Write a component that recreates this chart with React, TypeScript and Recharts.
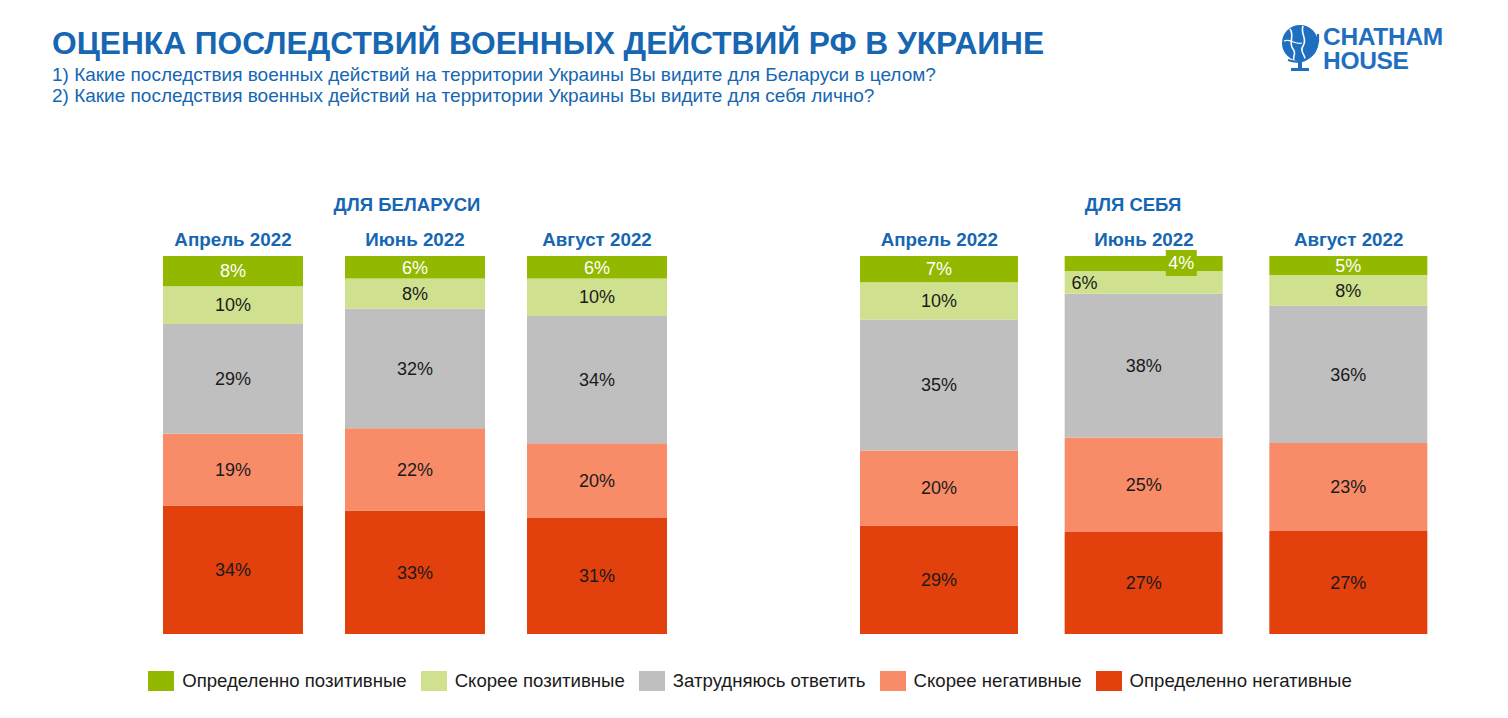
import React from "react";
import { Bar, BarChart, LabelList, XAxis, YAxis } from "recharts";

const categories = ["Апрель 2022", "Июнь 2022", "Август 2022"];
const seriesNames = [
  "Определенно позитивные",
  "Скорее позитивные",
  "Затрудняюсь ответить",
  "Скорее негативные",
  "Определенно негативные",
];

// Для Беларуси
const belDefPos = [8, 6, 6];
const belProbPos = [10, 8, 10];
const belHard = [29, 32, 34];
const belProbNeg = [19, 22, 20];
const belDefNeg = [34, 33, 31];

// Для себя
const selfDefPos = [7, 4, 5];
const selfProbPos = [10, 6, 8];
const selfHard = [35, 38, 36];
const selfProbNeg = [20, 25, 23];
const selfDefNeg = [29, 27, 27];

const colors = ["#93b800", "#cfe18e", "#bfbfbf", "#f98c68", "#e2400d"];
const keys = ["defPos", "probPos", "hard", "probNeg", "defNeg"];
const BLUE = "#1666b2";
const FONT = "'Liberation Sans', Arial, sans-serif";

type Row = Record<string, number | string>;

function buildRows(series: number[][]): Row[] {
  return categories.map((name, i) => {
    const row: Row = { name };
    keys.forEach((k, s) => (row[k] = series[s][i]));
    return row;
  });
}

const belRows = buildRows([belDefPos, belProbPos, belHard, belProbNeg, belDefNeg]);
const selfRows = buildRows([selfDefPos, selfProbPos, selfHard, selfProbNeg, selfDefNeg]);

const CategoryTick = (props: any) => {
  const { x, payload } = props;
  return (
    <text x={x} y={26} textAnchor="middle" fill={BLUE} fontSize={18.8} fontWeight="bold" fontFamily={FONT}>
      {payload.value}
    </text>
  );
};

function makeLabel(rows: Row[], keyIdx: number) {
  return (props: any) => {
    const { x, y, width, height, index } = props;
    const v = rows[index][keys[keyIdx]] as number;
    const top = rows[index][keys[0]] as number;
    const cx = x + width / 2;
    const cy = y + height / 2;
    const white = keyIdx === 0;
    if (keyIdx === 0 && v < 5) {
      const bx = x + width * 0.64;
      return (
        <g>
          <rect x={bx} y={y - 6} width={31} height={26} fill={colors[0]} />
          <text x={bx + 15.5} y={y + 7} dy="0.35em" textAnchor="middle" fill="#fff" fontSize={18} fontFamily={FONT}>
            {v}%
          </text>
        </g>
      );
    }
    const shift = keyIdx === 1 && top < 5 ? -width * 0.375 : 0;
    return (
      <text x={cx + shift} y={cy} dy="0.35em" textAnchor="middle" fill={white ? "#fff" : "#1a1a1a"} fontSize={18} fontFamily={FONT}>
        {v}%
      </text>
    );
  };
}

function StackChart({ rows, width, barSize }: { rows: Row[]; width: number; barSize: number }) {
  const order = [4, 3, 2, 1, 0];
  return (
    <BarChart
      width={width}
      height={414}
      data={rows}
      stackOffset="expand"
      margin={{ top: 0, right: 0, bottom: 0, left: 0 }}
      barSize={barSize}
    >
      <XAxis
        dataKey="name"
        orientation="top"
        height={36}
        axisLine={false}
        tickLine={false}
        tick={<CategoryTick />}
        interval={0}
      />
      <YAxis hide domain={[0, 1]} />
      {order.map((s) => (
        <Bar key={keys[s]} dataKey={keys[s]} stackId="a" fill={colors[s]} isAnimationActive={false}>
          <LabelList content={makeLabel(rows, s)} />
        </Bar>
      ))}
    </BarChart>
  );
}

function Logo() {
  const c = "#1f6fc1";
  const word = { position: "absolute" as const, left: 42, color: c, fontFamily: FONT, fontWeight: "bold" as const, fontSize: 24.5, lineHeight: "24px", letterSpacing: -0.3, whiteSpace: "nowrap" as const };
  return (
    <div style={{ position: "absolute", left: 1281, top: 24, width: 175, height: 50 }}>
      <svg width={40} height={50} style={{ position: "absolute", left: 0, top: 0 }}>
        <circle cx={19} cy={19} r={18} fill={c} />
        <path d="M9 5 C14 12 7 19 12 25 C16 30 11 33 13 36" stroke="#fff" strokeWidth={1.6} fill="none" />
        <path d="M22 2 C19 10 27 15 22 22 C18 28 25 31 24 36" stroke="#fff" strokeWidth={1.6} fill="none" />
        <path d="M3 17 C9 14 14 21 21 19" stroke="#fff" strokeWidth={1.2} fill="none" />
        <path d="M37 10 C39 29 24 42 7 36" stroke={c} strokeWidth={2.2} fill="none" />
        <rect x={17} y={38} width={4} height={7} fill={c} />
        <rect x={10} y={44} width={18} height={3} fill={c} />
      </svg>
      <div style={{ ...word, top: 1 }}>CHATHAM</div>
      <div style={{ ...word, top: 25 }}>HOUSE</div>
    </div>
  );
}

export default function App() {
  return (
    <div style={{ position: "absolute", left: 0, top: 0, width: 1508, height: 718, background: "#fff", fontFamily: FONT, overflow: "hidden" }}>
      <div style={{ position: "absolute", left: 52, top: 25, color: BLUE, fontWeight: "bold", fontSize: 31.7, lineHeight: "36px" }}>
        ОЦЕНКА ПОСЛЕДСТВИЙ ВОЕННЫХ ДЕЙСТВИЙ РФ В УКРАИНЕ
      </div>
      <div style={{ position: "absolute", left: 52, top: 64, color: BLUE, fontSize: 19, lineHeight: "21px" }}>
        1) Какие последствия военных действий на территории Украины Вы видите для Беларуси в целом?
        <br />
        2) Какие последствия военных действий на территории Украины Вы видите для себя лично?
      </div>
      <Logo />

      <div style={{ position: "absolute", left: 207, width: 400, top: 194, textAlign: "center", color: BLUE, fontWeight: "bold", fontSize: 18.5 }}>
        ДЛЯ БЕЛАРУСИ
      </div>
      <div style={{ position: "absolute", left: 933, width: 400, top: 194, textAlign: "center", color: BLUE, fontWeight: "bold", fontSize: 18.5 }}>
        ДЛЯ СЕБЯ
      </div>

      <div style={{ position: "absolute", left: 142, top: 220 }}>
        <StackChart rows={belRows} width={546} barSize={140} />
      </div>
      <div style={{ position: "absolute", left: 837, top: 220 }}>
        <StackChart rows={selfRows} width={614} barSize={158} />
      </div>

      <div style={{ position: "absolute", left: 0, width: 1500, top: 670, display: "flex", justifyContent: "center", gap: 14 }}>
        {seriesNames.map((n, i) => (
          <div key={n} style={{ display: "flex", alignItems: "center", fontSize: 18.6, color: "#1a1a1a" }}>
            <span style={{ display: "inline-block", width: 26, height: 20, background: colors[i], marginRight: 8 }} />
            {n}
          </div>
        ))}
      </div>
    </div>
  );
}
